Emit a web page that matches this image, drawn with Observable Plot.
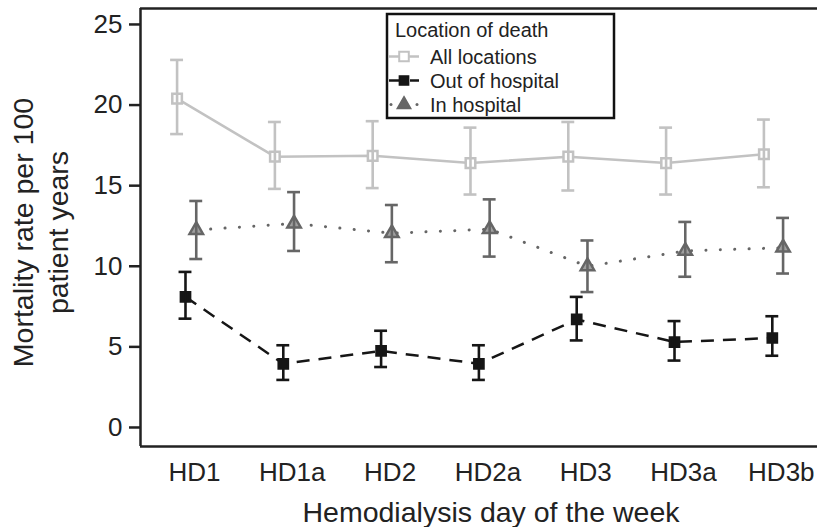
<!DOCTYPE html>
<html><head><meta charset="utf-8">
<script src="https://cdn.jsdelivr.net/npm/d3@7"></script>
<script src="https://cdn.jsdelivr.net/npm/@observablehq/plot@0.6"></script>
<style>body{margin:0;background:#fff;} #chart{width:817px;height:527px;}</style>
</head><body><div id="chart"></div>
<script>
const days = ["HD1","HD1a","HD2","HD2a","HD3","HD3a","HD3b"];
const yTicks = [0,5,10,15,20,25];
const seriesNames = ["All locations","Out of hospital","In hospital"];
const allRate = [20.4, 16.8, 16.85, 16.4, 16.8, 16.4, 16.95];
const allLo   = [18.2, 14.8, 14.85, 14.45, 14.7, 14.45, 14.9];
const allHi   = [22.8, 18.95, 19.0, 18.6, 18.95, 18.6, 19.1];
const outRate = [8.1, 3.95, 4.75, 3.95, 6.7, 5.3, 5.55];
const outLo   = [6.75, 2.95, 3.75, 2.95, 5.4, 4.15, 4.45];
const outHi   = [9.65, 5.1, 6.0, 5.1, 8.1, 6.6, 6.9];
const inRate  = [12.25, 12.65, 12.05, 12.3, 10.0, 10.95, 11.15];
const inLo    = [10.45, 10.95, 10.25, 10.6, 8.4, 9.35, 9.55];
const inHi    = [14.05, 14.6, 13.8, 14.15, 11.6, 12.75, 13.0];
const xLabel = "Hemodialysis day of the week";
const yLabel = "Mortality rate per 100\npatient years";
const legendTitle = "Location of death";

const xDomain = [-0.552, 6.37];
const yDomain = [-1.18, 25.99];
const capHalf = 0.066;
const ink = "#222";
const font = "'Liberation Sans', Arial, Helvetica, sans-serif";

const styles = [
  {name: seriesNames[0], rate: allRate, lo: allLo, hi: allHi, offset: -0.178, color: "#c2c2c2",
   dash: null, cap: "butt", symbol: "square", r: 5.4, fill: "white", lw: 2.5},
  {name: seriesNames[1], rate: outRate, lo: outLo, hi: outHi, offset: -0.092, color: "#161616",
   dash: "13,9", cap: "butt", symbol: "square", r: 5.2, fill: "#161616", lw: 2.5},
  {name: seriesNames[2], rate: inRate, lo: inLo, hi: inHi, offset: 0.018, color: "#666666",
   dash: "0.1,14.3", cap: "round", symbol: "triangle", r: 5, fill: "#a0a0a0", lw: 3}
];

const marks = [
  Plot.axisY(yTicks, {tickSize: 11, tickPadding: 7, fontSize: 26, stroke: ink, strokeWidth: 2.5, label: null}),
  Plot.axisX(days.map((d, i) => i), {tickSize: 0, tickPadding: 16, fontSize: 26, tickFormat: i => days[i], label: null}),
  Plot.ruleY(yDomain, {stroke: ink, strokeWidth: 2.5}),
  Plot.ruleX([xDomain[0]], {stroke: ink, strokeWidth: 2.5}),
  Plot.text([yLabel], {text: d => d, frameAnchor: "left", rotate: -90, dx: -101.7, dy: 5, fontSize: 28.5,
    lineHeight: 1.23, lineAnchor: "middle", textAnchor: "middle", fill: ink}),
  Plot.text([xLabel], {text: d => d, frameAnchor: "bottom", dx: 12, dy: 75, fontSize: 28.5, lineAnchor: "bottom", fill: ink})
];

for (const s of styles) {
  const rows = days.map((d, i) => ({day: d, pos: i + s.offset, rate: s.rate[i], lo: s.lo[i], hi: s.hi[i]}));
  marks.push(
    Plot.line(rows, {x: "pos", y: "rate", stroke: s.color, strokeWidth: s.lw, strokeDasharray: s.dash, strokeLinecap: s.cap}),
    Plot.dot(rows, {x: "pos", y: "rate", symbol: s.symbol, r: s.r, fill: s.fill, stroke: s.color, strokeWidth: 2.5}),
    Plot.ruleX(rows, {x: "pos", y1: "lo", y2: "hi", stroke: s.color, strokeWidth: 2.6}),
    Plot.ruleY(rows, {y: "lo", x1: d => d.pos - capHalf, x2: d => d.pos + capHalf, stroke: s.color, strokeWidth: 2.6}),
    Plot.ruleY(rows, {y: "hi", x1: d => d.pos - capHalf, x2: d => d.pos + capHalf, stroke: s.color, strokeWidth: 2.6})
  );
}

const svg = Plot.plot({
  width: 817, height: 527,
  marginTop: 8, marginBottom: 81, marginLeft: 140, marginRight: 0,
  style: {fontFamily: font, color: ink, background: "white", overflow: "visible"},
  x: {type: "linear", domain: xDomain},
  y: {domain: yDomain},
  marks
});
document.getElementById("chart").appendChild(svg);

// Legend inside the panel
const g = d3.select(svg).append("g").attr("font-family", font).attr("fill", ink).attr("text-anchor", "start");
g.append("rect").attr("x", 387).attr("y", 14).attr("width", 227).attr("height", 104)
  .attr("fill", "white").attr("stroke", "#111").attr("stroke-width", 2.5);
g.append("text").attr("x", 395).attr("y", 37).attr("font-size", 20).attr("text-anchor", "start").text(legendTitle);
styles.forEach((s, k) => {
  const cy = 56.5 + k * 24;
  const row = g.append("g");
  if (k === 0) {
    row.append("line").attr("x1", 389).attr("x2", 419).attr("y1", cy).attr("y2", cy)
      .attr("stroke", s.color).attr("stroke-width", 2.5);
  } else if (k === 1) {
    row.append("line").attr("x1", 389).attr("x2", 399).attr("y1", cy).attr("y2", cy).attr("stroke", s.color).attr("stroke-width", 2.5);
    row.append("line").attr("x1", 410).attr("x2", 419).attr("y1", cy).attr("y2", cy).attr("stroke", s.color).attr("stroke-width", 2.5);
  } else {
    [391, 417].forEach(x => row.append("circle").attr("cx", x).attr("cy", cy).attr("r", 1.5).attr("fill", s.color));
  }
  const type = s.symbol === "square" ? d3.symbolSquare : d3.symbolTriangle;
  row.append("path").attr("transform", `translate(404,${cy})`)
    .attr("d", d3.symbol(type, Math.PI * s.r * s.r)())
    .attr("fill", k === 2 ? s.color : s.fill).attr("stroke", s.color).attr("stroke-width", k === 0 ? 2 : 1.5);
  row.append("text").attr("x", 430).attr("y", cy + 7).attr("font-size", 20).attr("text-anchor", "start").text(s.name);
});
</script>
</body></html>
